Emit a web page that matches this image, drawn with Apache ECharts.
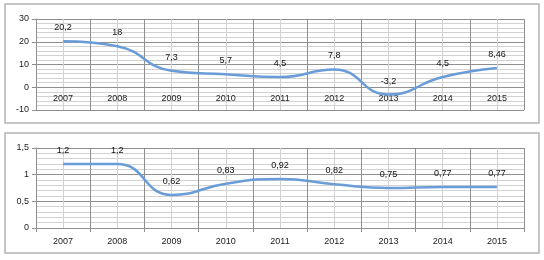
<!DOCTYPE html>
<html>
<head>
<meta charset="utf-8">
<script src="https://cdn.jsdelivr.net/npm/echarts@6/dist/echarts.min.js"></script>
<style>
html,body{margin:0;padding:0;background:#fff;}
#c{width:544px;height:260px;}
</style>
</head>
<body>
<div id="c"></div>
<script>
const years = ['2007','2008','2009','2010','2011','2012','2013','2014','2015'];
const growth = [20.2, 18, 7.3, 5.7, 4.5, 7.8, -3.2, 4.5, 8.46];
const ratio = [1.2, 1.2, 0.62, 0.83, 0.92, 0.82, 0.75, 0.77, 0.77];

const FONT = 'Liberation Sans';
const MAJOR = '#8f8f8f';
const MINOR = '#d2d2d2';
const LINE = '#6a9dd8';
const comma = v => String(v).replace('.', ',');

// plot geometry
const TOP_H = 91, TOP_MIN = -10, TOP_MAX = 30;
const zeroOffset = -TOP_H * (0 - TOP_MIN) / (TOP_MAX - TOP_MIN);

function catAxis(gi, margin, offset) {
  return {
    gridIndex: gi, type: 'category', data: years, boundaryGap: true, position: 'bottom', offset: offset,
    axisLine: { onZero: false, lineStyle: { color: MAJOR, width: 1 } },
    axisTick: { show: true, length: 4, inside: false, lineStyle: { color: MAJOR } },
    axisLabel: { margin: margin, fontSize: 9, color: '#222', fontFamily: FONT },
    splitLine: { show: false }
  };
}
function gridXAxis(gi) {
  return {
    gridIndex: gi, type: 'value', min: 0, max: 9, interval: 1, position: 'top',
    axisLine: { show: false, onZero: false }, axisTick: { show: false }, axisLabel: { show: false },
    splitLine: { show: true, lineStyle: { color: MAJOR, width: 1 } },
    minorTick: { show: false, splitNumber: 2 },
    minorSplitLine: { show: true, lineStyle: { color: MINOR, width: 1 } }
  };
}
function valAxis(gi, min, max, interval) {
  return {
    gridIndex: gi, type: 'value', min: min, max: max, interval: interval, position: 'left',
    axisLine: { show: true, onZero: false, lineStyle: { color: MAJOR } },
    axisTick: { show: true, length: 4, lineStyle: { color: MAJOR } },
    axisLabel: { fontSize: 9, color: '#222', fontFamily: FONT, margin: 7, formatter: v => comma(v) },
    splitLine: { show: true, lineStyle: { color: MAJOR, width: 1 } },
    minorTick: { show: false, splitNumber: 5 },
    minorSplitLine: { show: true, lineStyle: { color: MINOR, width: 1 } }
  };
}
function lineSeries(xi, yi, data) {
  return {
    type: 'line', xAxisIndex: xi, yAxisIndex: yi, data: data, smooth: 0.5,
    showSymbol: true, symbol: 'circle', symbolSize: 2,
    itemStyle: { color: 'rgba(0,0,0,0)', borderWidth: 0 },
    lineStyle: { color: LINE, width: 2.5 },
    labelLayout: { hideOverlap: false },
    label: { show: true, position: 'top', distance: 8, fontSize: 9, color: '#111', fontFamily: FONT,
      opacity: 1, formatter: p => comma(p.value) }
  };
}

const chart = echarts.init(document.getElementById('c'), null, { renderer: 'canvas' });
chart.setOption({
  animation: false,
  backgroundColor: '#fff',
  grid: [
    { left: 36, right: 20, top: 19, height: TOP_H },
    { left: 36, right: 20, top: 148, height: 80 }
  ],
  xAxis: [catAxis(0, 7, zeroOffset), gridXAxis(0), catAxis(1, 9, 0), gridXAxis(1)],
  yAxis: [valAxis(0, TOP_MIN, TOP_MAX, 10), valAxis(1, 0, 1.5, 0.5)],
  series: [lineSeries(0, 0, growth), lineSeries(2, 1, ratio)],
  graphic: [
    { type: 'rect', shape: { x: 5, y: 4, width: 534, height: 119 }, style: { fill: 'none', stroke: '#b3b3b3', lineWidth: 1.5 }, silent: true },
    { type: 'rect', shape: { x: 5, y: 133, width: 534, height: 120 }, style: { fill: 'none', stroke: '#b3b3b3', lineWidth: 1.5 }, silent: true }
  ]
});
</script>
</body>
</html>
